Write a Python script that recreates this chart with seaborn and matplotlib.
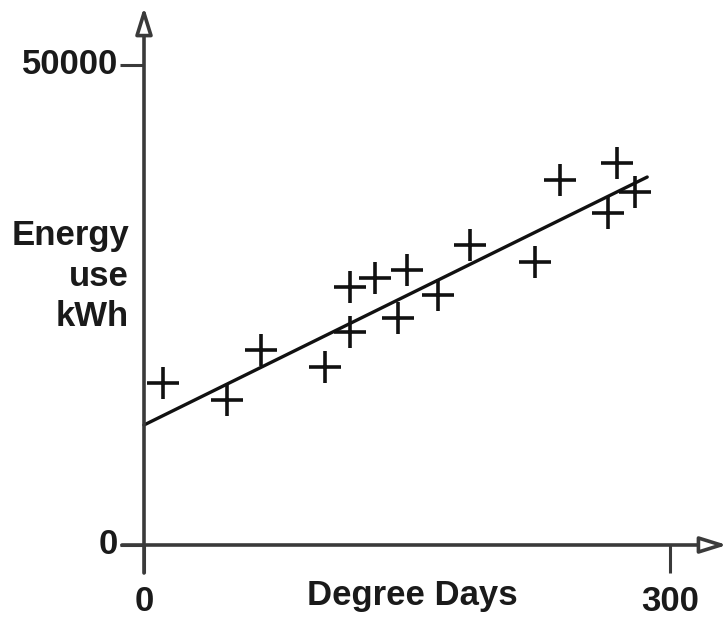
import matplotlib
matplotlib.use("Agg")
import matplotlib.pyplot as plt
import seaborn as sns
import pandas as pd

# Data
degree_days = [10.8, 47.3, 66.7, 103.2, 117.5, 117.5, 131.7, 144.9, 150.0, 167.7, 185.9, 223.0, 237.2, 264.6, 269.7, 280.0]
energy_kwh = [16900, 15100, 20300, 18550, 26900, 22200, 27800, 23650, 28650, 26050, 31250, 29500, 38000, 34600, 39800, 36800]
fit_x = [0, 287]
fit_y = [12500, 38330]
x_ticks = [0, 300]
y_ticks = [0, 50000]
x_label = "Degree Days"
y_label = "Energy\nuse\nkWh"

sns.set_theme(style="white")
plt.rcParams['font.family'] = ['Liberation Sans', 'DejaVu Sans']

fig = plt.figure(figsize=(7.28, 6.18), dpi=100)
ax = fig.add_axes([0, 0, 1, 1])
ax.axis('off')

# pixel -> data mapping (x=0 at px 144, 300 at px 670; y=0 at px 545, 50000 at px 65)
def px_x(p):
    return (p - 144) * 300 / (670 - 144)

def px_y(p):
    return (545 - p) * 50000 / (545 - 65)

ax.set_xlim(px_x(0), px_x(728))
ax.set_ylim(px_y(618), px_y(0))

axis_col = '#3a3a3a'
txt_col = '#1a1a1a'
fs = 25
# axes with open arrowheads
ax.annotate('', xy=(0, px_y(7)), xytext=(0, px_y(573)),
            arrowprops=dict(arrowstyle='-|>,head_length=1.35,head_width=0.42',
                            fc='white', ec=axis_col, lw=2.6, shrinkA=0, shrinkB=0))
ax.annotate('', xy=(px_x(727), 0), xytext=(px_x(122), 0),
            arrowprops=dict(arrowstyle='-|>,head_length=1.35,head_width=0.42',
                            fc='white', ec=axis_col, lw=2.6, shrinkA=0, shrinkB=0))

# ticks
for yt in y_ticks:
    ax.plot([px_x(120), 0], [yt, yt], color=axis_col, lw=2.2, solid_capstyle='butt')
    ax.text(px_x(118), yt, f"{yt}", ha='right', va='center', fontsize=fs,
            fontweight='bold', color=txt_col)
for xt in x_ticks:
    ax.plot([xt, xt], [0, px_y(573)], color=axis_col, lw=2.2, solid_capstyle='butt')
    ax.text(xt, px_y(611), f"{xt}", ha='center', va='baseline', fontsize=fs,
            fontweight='bold', color=txt_col)

ax.text(px_x(412), px_y(605), x_label, ha='center', va='baseline', fontsize=fs,
        fontweight='bold', color=txt_col)
ax.text(px_x(129), px_y(276), y_label, ha='right', va='center', fontsize=fs,
        fontweight='bold', color=txt_col, linespacing=1.3, multialignment='right')

df = pd.DataFrame({'x': degree_days, 'y': energy_kwh})
sns.scatterplot(data=df, x='x', y='y', marker='+', s=560, color='#111111',
                linewidth=2.6, ax=ax, zorder=3)
fit = pd.DataFrame({'x': fit_x, 'y': fit_y})
sns.lineplot(data=fit, x='x', y='y', color='#111111', lw=2.4, ax=ax)

ax.set_xlim(px_x(0), px_x(728))
ax.set_ylim(px_y(618), px_y(0))
ax.axis('off')

fig.savefig('out.png', dpi=100)
